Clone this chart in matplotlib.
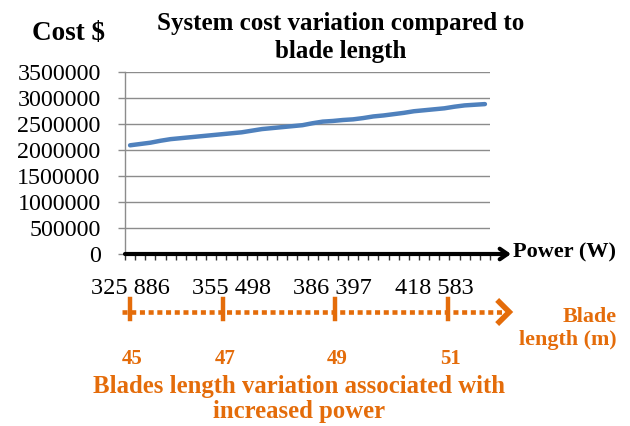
import matplotlib
matplotlib.use("Agg")
import matplotlib.pyplot as plt

# ---------------- data ----------------
cost_values = [2093750, 2118750, 2143750, 2181250, 2212500, 2231250, 2250000,
               2268750, 2287500, 2306250, 2325000, 2343750, 2375000, 2406250,
               2425000, 2443750, 2462500, 2481250, 2518750, 2550000, 2562500,
               2581250, 2593750, 2618750, 2650000, 2668750, 2693750, 2718750,
               2750000, 2768750, 2787500, 2806250, 2837500, 2862500, 2875000,
               2887500]
power_labels = ["325 886", "355 498", "386 397", "418 583"]
power_label_index = [0, 10, 20, 30]
y_ticks = [0, 500000, 1000000, 1500000, 2000000, 2500000, 3000000, 3500000]
blade_lengths = [45, 47, 49, 51]
blade_power_index = [0.0, 9.2, 20.2, 31.4]

title_text = "System cost variation compared to\nblade length"
ylabel_text = "Cost $"
xlabel_text = "Power (W)"
blade_axis_label = "Blade\nlength (m)"
caption_text = "Blades length variation associated with\nincreased power"

# ---------------- style ----------------
W, H = 630, 426
SERIF = ["Liberation Serif", "DejaVu Serif"]
ORANGE = "#E46C0A"
BLUE = "#4F81BD"
GRID = "#8c8c8c"

plt.rcParams["font.family"] = SERIF

fig = plt.figure(figsize=(W / 100, H / 100), dpi=100)

def fx(x):
    return x / W

def fy(y):
    return 1 - y / H

# main axes: left 125px, right 490px, top 72px, bottom 254px
ax = fig.add_axes([fx(125), fy(254), fx(490) - fx(125), (254 - 72.3) / H])
n = len(cost_values)
xs = list(range(n))
ax.plot(xs, cost_values, color=BLUE, lw=3.2, solid_capstyle="round",
        solid_joinstyle="round", zorder=3)
ax.set_xlim(-0.5, n - 0.5)
ax.set_ylim(0, 3500000)
ax.set_yticks(y_ticks)
ax.set_yticklabels([str(v) for v in y_ticks], fontsize=17.3)
ax.grid(axis="y", color=GRID, lw=1.0)
ax.set_axisbelow(True)
for s in ["top", "right", "bottom"]:
    ax.spines[s].set_visible(False)
ax.spines["left"].set_color(GRID)
ax.spines["left"].set_linewidth(1.0)
ax.tick_params(axis="y", length=5, width=1.0, color=GRID, pad=12.5)

# category ticks (boundaries) and sparse labels
ax.set_xticks([i - 0.5 for i in range(n + 1)], minor=True)
ax.set_xticks(power_label_index)
ax.set_xticklabels(power_labels, fontsize=17.5)
ax.tick_params(axis="x", which="major", length=0, pad=17)
ax.tick_params(axis="x", which="minor", length=4, width=1.0, color="#333333",
               direction="out")

# thick black x axis arrow
ax.annotate("", xy=(fx(511), fy(254)), xycoords="figure fraction",
            xytext=(fx(125), fy(254)), textcoords="figure fraction",
            arrowprops=dict(arrowstyle="->,head_length=0.55,head_width=0.38",
                            color="black", lw=3.0, shrinkA=0, shrinkB=0),
            zorder=5, annotation_clip=False)
fig.text(fx(513), fy(252), xlabel_text, fontsize=16, fontweight="bold",
         ha="left", va="center")

# title and y label
fig.text(fx(341), fy(37.5), title_text, fontsize=18, fontweight="bold",
         ha="center", va="center", linespacing=1.28)
fig.text(fx(68), fy(34), ylabel_text, fontsize=19.5, fontweight="bold",
         ha="center", va="center")

# ---------------- orange blade-length scale ----------------
bx = fig.add_axes([fx(125), fy(330), fx(490) - fx(125), 36 / H])
bx.set_xlim(-0.5, n - 0.5)
bx.set_ylim(0, 1)
bx.axis("off")
bx.plot([-0.8, 36.9], [0.5, 0.5], color=ORANGE, lw=3.3, ls=(0, (1.1, 0.8)),
        clip_on=False)
bx.plot([36.4, 37.4, 36.4], [0.78, 0.5, 0.22], color=ORANGE, lw=4,
        solid_joinstyle="miter", clip_on=False)
for p in blade_power_index:
    bx.plot([p, p], [0.3, 0.85], color=ORANGE, lw=3.2, clip_on=False)
for p, b in zip(blade_power_index, blade_lengths):
    bx.text(p + 0.2, -0.8, str(b), color=ORANGE, fontsize=15,
            fontweight="bold", ha="center", va="center", clip_on=False)

fig.text(fx(617), fy(328), blade_axis_label, color=ORANGE, fontsize=15.8,
         fontweight="bold", ha="right", va="center", linespacing=1.2)
fig.text(fx(299), fy(399), caption_text, color=ORANGE, fontsize=17.8,
         fontweight="bold", ha="center", va="center", linespacing=1.1)

fig.savefig("out.png", dpi=100)
